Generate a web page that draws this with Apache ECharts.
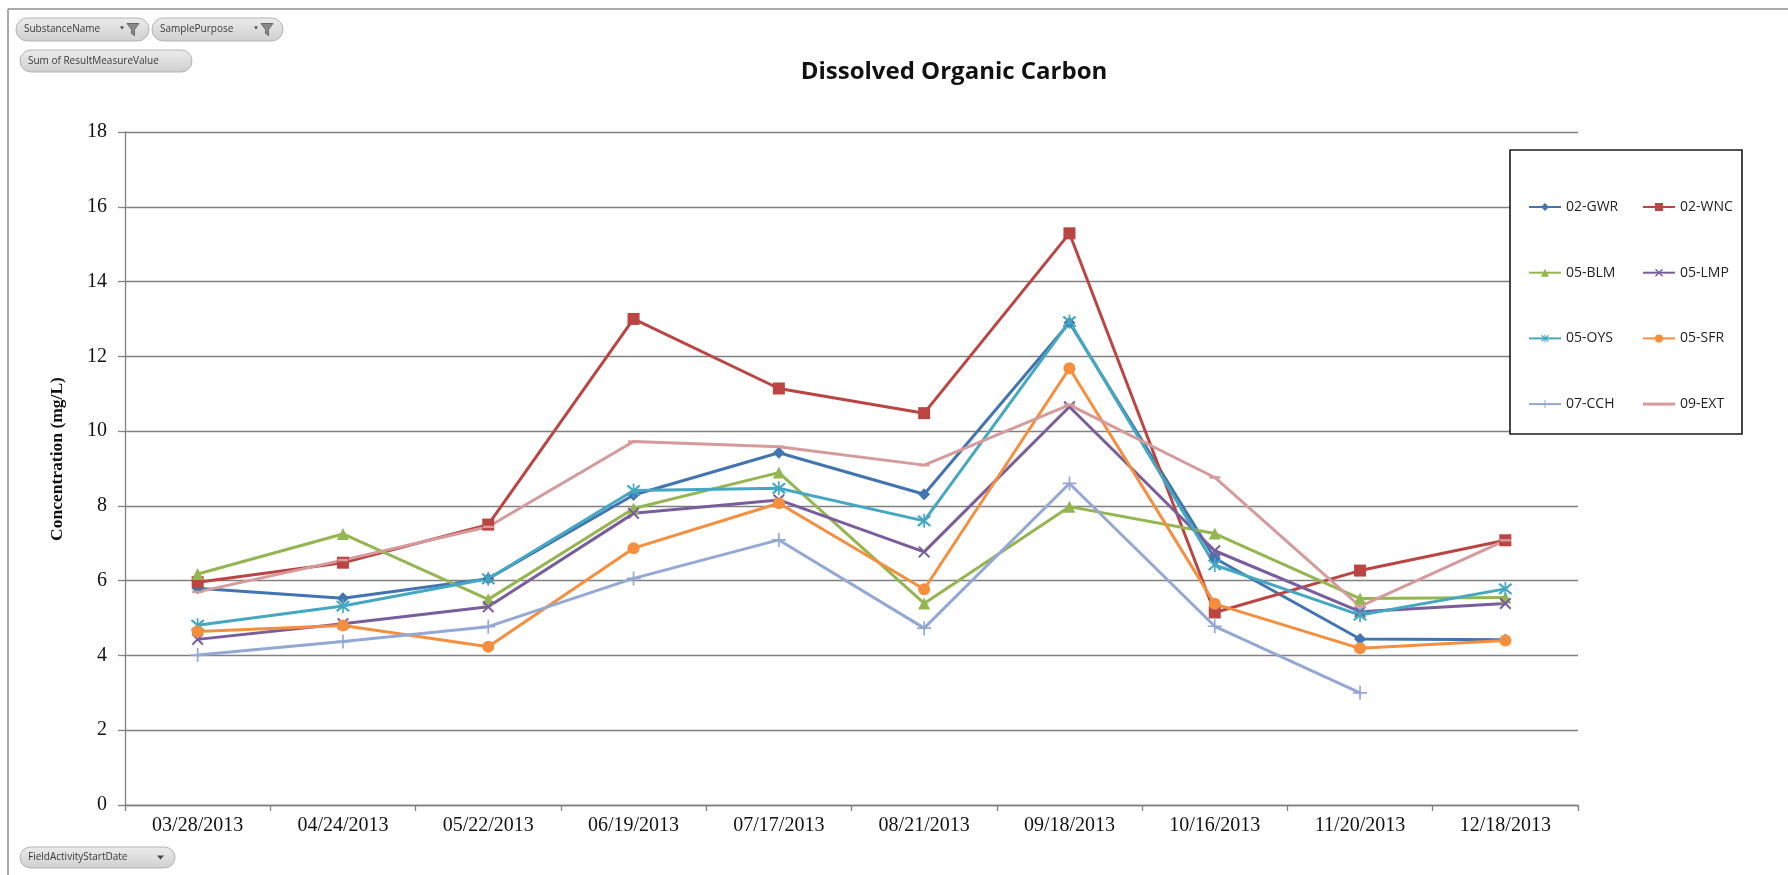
<!DOCTYPE html>
<html>
<head>
<meta charset="utf-8">
<script src="https://cdn.jsdelivr.net/npm/echarts@6/dist/echarts.min.js"></script>
<style>
html,body{margin:0;padding:0;background:#fff;}
#chart{width:1788px;height:875px;}
</style>
</head>
<body>
<div id="chart"></div>
<script>
const categories = ['03/28/2013','04/24/2013','05/22/2013','06/19/2013','07/17/2013','08/21/2013','09/18/2013','10/16/2013','11/20/2013','12/18/2013'];
const yTicks = [0, 2, 4, 6, 8, 10, 12, 14, 16, 18];
const seriesNames = ['02-GWR','02-WNC','05-BLM','05-LMP','05-OYS','05-SFR','07-CCH','09-EXT'];
const gwr = [5.8, 5.53, 6.05, 8.29, 9.42, 8.31, 12.9, 6.6, 4.44, 4.42];
const wnc = [5.96, 6.48, 7.5, 13.0, 11.14, 10.48, 15.29, 5.15, 6.27, 7.08];
const blm = [6.18, 7.25, 5.5, 7.93, 8.89, 5.39, 7.98, 7.26, 5.52, 5.55];
const lmp = [4.43, 4.85, 5.3, 7.8, 8.16, 6.77, 10.65, 6.8, 5.17, 5.39];
const oys = [4.81, 5.32, 6.05, 8.41, 8.47, 7.6, 12.93, 6.42, 5.08, 5.78];
const sfr = [4.64, 4.8, 4.23, 6.87, 8.07, 5.77, 11.68, 5.38, 4.19, 4.4];
const cch = [4.01, 4.37, 4.77, 6.06, 7.09, 4.73, 8.6, 4.78, 3.0, null];
const ext = [5.7, 6.55, 7.44, 9.72, 9.58, 9.09, 10.7, 8.76, 5.31, 7.08];

const colors = ['#4274B0','#BA4542','#94B650','#7A5D9C','#45A8C3','#F58F3E','#93A8D4','#D79A9B'];
const X_PATH = 'path://M0,1.2L1.2,0L5,3.8L8.8,0L10,1.2L6.2,5L10,8.8L8.8,10L5,6.2L1.2,10L0,8.8L3.8,5Z';
const STAR_PATH = 'path://M0,1.2L1.2,0L5,3.8L8.8,0L10,1.2L6.2,5L10,8.8L8.8,10L5,6.2L1.2,10L0,8.8L3.8,5ZM4.4,-1H5.6V11H4.4Z';
const PLUS_PATH = 'path://M4.4,0H5.6V4.4H10V5.6H5.6V10H4.4V5.6H0V4.4H4.4Z';
const DASH_PATH = 'path://M0,0H10V2H0Z';
const LINE_ICON = 'path://M0,0H32V3H0Z';
const symbols = ['diamond','rect','triangle',X_PATH,STAR_PATH,'circle',PLUS_PATH,DASH_PATH];
const symbolSizes = [12, 12, 12, 12, 14, 12, 14, [11, 2.5]];
const dataSets = [gwr, wnc, blm, lmp, oys, sfr, cch, ext];

const series = seriesNames.map((n, i) => ({
  name: n,
  type: 'line',
  data: dataSets[i],
  symbol: symbols[i],
  symbolSize: symbolSizes[i],
  showSymbol: true,
  connectNulls: false,
  lineStyle: { color: colors[i], width: 3 },
  itemStyle: { color: colors[i] },
  emphasis: { disabled: true },
  z: 2
}));

function button(x, y, w, h, label, icon) {
  const children = [{
    type: 'rect',
    shape: { x: x, y: y, width: w, height: h, r: h / 2 },
    style: {
      fill: new echarts.graphic.LinearGradient(0, 0, 0, 1, [
        { offset: 0, color: '#ececec' }, { offset: 1, color: '#cfcfcf' }
      ]),
      stroke: '#b3b3b3', lineWidth: 1
    }
  }, {
    type: 'text',
    style: { x: x + 8, y: y + h / 2, text: label, fill: '#3a3a3a', font: '10px "Open Sans"', verticalAlign: 'middle', align: 'left' }
  }];
  if (icon === 'filter') {
    const fx = x + w - 22, fy = y + h / 2 - 6;
    children.push({
      type: 'polygon',
      shape: { points: [[fx - 7, fy + 3], [fx - 3, fy + 3], [fx - 5, fy + 6]] },
      style: { fill: '#444' }
    });
    children.push({
      type: 'polygon',
      shape: { points: [[fx, fy], [fx + 12, fy], [fx + 7.5, fy + 6], [fx + 7.5, fy + 12], [fx + 4.5, fy + 10], [fx + 4.5, fy + 6]] },
      style: { fill: '#8a8a8a', stroke: '#555', lineWidth: 0.8 }
    });
  } else if (icon === 'drop') {
    const dx = x + w - 18, dy = y + h / 2 - 2;
    children.push({
      type: 'polygon',
      shape: { points: [[dx, dy], [dx + 7, dy], [dx + 3.5, dy + 4]] },
      style: { fill: '#444' }
    });
  }
  return { type: 'group', z: 10, children: children };
}

const legendText = { fontFamily: 'Open Sans', fontSize: 14, color: '#222', lineHeight: 14 };

const chart = echarts.init(document.getElementById('chart'), null, { renderer: 'canvas' });
chart.setOption({
  animation: false,
  backgroundColor: '#ffffff',
  color: colors,
  grid: { left: 125, right: 210, top: 132, bottom: 70, containLabel: false },
  xAxis: {
    type: 'category',
    data: categories,
    boundaryGap: true,
    axisLine: { show: true, lineStyle: { color: '#808080', width: 1.3 } },
    axisTick: { show: true, length: 6, lineStyle: { color: '#808080', width: 1.3 } },
    axisLabel: { color: '#111', fontFamily: 'Liberation Serif', fontSize: 20, margin: 11 },
    splitLine: { show: false }
  },
  yAxis: {
    type: 'value',
    min: yTicks[0],
    max: yTicks[yTicks.length - 1],
    interval: 2,
    axisLine: { show: true, lineStyle: { color: '#808080', width: 1.3 } },
    axisTick: { show: true, length: 7, lineStyle: { color: '#808080', width: 1.3 } },
    axisLabel: { color: '#111', fontFamily: 'Liberation Serif', fontSize: 20, margin: 18 },
    splitLine: { show: true, lineStyle: { color: '#808080', width: 1.3 } }
  },
  legend: [{
    data: [seriesNames[0], seriesNames[2], seriesNames[4], seriesNames[6]],
    orient: 'vertical',
    left: 1523, top: 195,
    itemWidth: 32, itemHeight: 10, itemGap: 51.7,
    textStyle: legendText,
    selectedMode: false
  }, {
    data: [seriesNames[1], seriesNames[3], seriesNames[5], { name: seriesNames[7], icon: LINE_ICON }],
    orient: 'vertical',
    left: 1637, top: 195,
    itemWidth: 32, itemHeight: 10, itemGap: 51.7,
    textStyle: legendText,
    selectedMode: false
  }],
  graphic: [
    { type: 'line', z: 10, shape: { x1: 8, y1: 9, x2: 1788, y2: 9 }, style: { stroke: '#8e8e8e', lineWidth: 1.5 } },
    { type: 'line', z: 10, shape: { x1: 8, y1: 9, x2: 8, y2: 875 }, style: { stroke: '#8e8e8e', lineWidth: 1.5 } },
    button(16, 18, 133, 23, 'SubstanceName', 'filter'),
    button(152, 18, 131, 23, 'SamplePurpose', 'filter'),
    button(20, 50, 172, 22, 'Sum of ResultMeasureValue', null),
    button(20, 847, 155, 21, 'FieldActivityStartDate', 'drop'),
    { type: 'rect', z: 3, shape: { x: 1510, y: 150, width: 232, height: 284 }, style: { fill: '#ffffff', stroke: '#1a1a1a', lineWidth: 1.6 } },
    {
      type: 'group', z: 10, children: [
        { type: 'rect', shape: { x: 1513, y: 152.5, width: 226, height: 21, r: 6 },
          style: { fill: new echarts.graphic.LinearGradient(0, 0, 0, 1, [{ offset: 0, color: '#e9e9e9' }, { offset: 1, color: '#cdcdcd' }]), stroke: '#bdbdbd', lineWidth: 1 } },
        { type: 'text', style: { x: 1519, y: 163, text: 'MonitoringLocationIdentifier', fill: '#444', font: '10px "Open Sans"', verticalAlign: 'middle' } },
        { type: 'polygon', shape: { points: [[1726, 161], [1733, 161], [1729.5, 165]] }, style: { fill: '#333' } }
      ]
    },
    { type: 'text', z: 10, x: 954, y: 72, style: { text: 'Dissolved Organic Carbon', fill: '#111', font: 'bold 24px "Open Sans"', align: 'center', verticalAlign: 'middle' } },
    { type: 'text', z: 10, x: 57, y: 459, rotation: Math.PI / 2, style: { text: 'Concentration (mg/L)', fill: '#111', font: 'bold 17.5px "Liberation Serif"', align: 'center', verticalAlign: 'middle' } }
  ],
  series: series
});
</script>
</body>
</html>
